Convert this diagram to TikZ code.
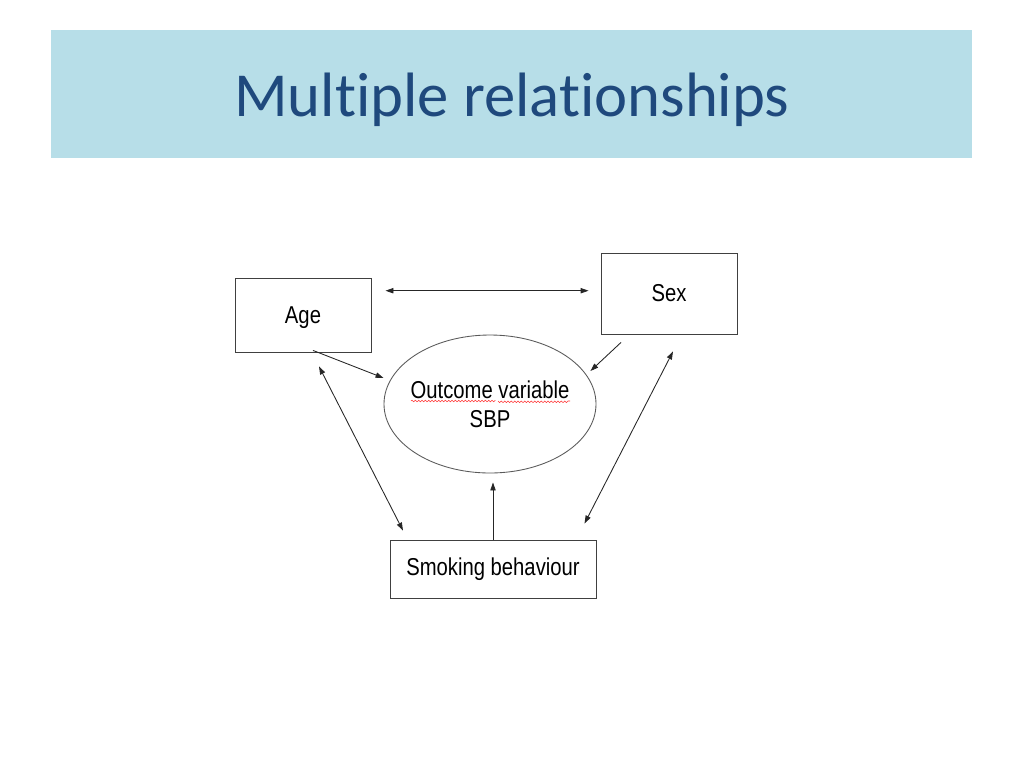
\documentclass[tikz,border=0pt]{standalone}
\usepackage{fontspec}
\setmainfont{Liberation Sans}[FakeStretch=0.83]
\newfontfamily\titlefont{Carlito}[Ligatures=NoCommon]
\usetikzlibrary{arrows.meta,shapes.geometric,decorations.pathmorphing}
\definecolor{bandblue}{RGB}{183,222,232}
\definecolor{titleblue}{RGB}{31,73,125}
\begin{document}
\begin{tikzpicture}[x=0.75pt, y=-0.75pt, line width=0.65pt]
      \tikzstyle{every node} = [inner sep = 2pt, font=\fontsize{18.3}{21.75}\selectfont];
      \tikzstyle{varbox} = [draw=black!75, rectangle];
      \tikzstyle{link} = [black!85, -{Triangle[length=6pt,width=4pt]}];
      \tikzstyle{twoway} = [black!85, {Triangle[length=6pt,width=4pt]}-{Triangle[length=6pt,width=4pt]}];
      \useasboundingbox (0,0) rectangle (1024,768);
      % title band
      \fill[bandblue] (51,30) rectangle (972,158);
      \node (title) at (512,100) {\titlefont\fontsize{47}{50}\selectfont\color{titleblue}Multiple relationships};
      % variables
      \node (age) [varbox, minimum width=102pt, minimum height=55.5pt, text depth=0pt] at (303,315) {Age};
      \node (sex) [varbox, minimum width=102pt, minimum height=60.75pt] at (669,293.5) {Sex};
      \node (sbp) [draw=black!65, ellipse, inner sep=0pt, minimum width=159pt, minimum height=103.5pt] at (490,404) {};
      \node (sbptext) [align=center] at (sbp.center) {Outcome variable\\SBP};
      \node (smk) [varbox, minimum width=154.5pt, minimum height=43.5pt] at (493,569) {Smoking behaviour};
      % spell-check marks
      \draw[red!80, line width=0.4pt, decorate, decoration={snake, amplitude=0.6pt, segment length=2.5pt}]
        (sbp.center) ++(-79,-3) -- ++(84,0) ++(3,0) -- ++(72,0);
      % arrow ends
      \path (age.east) ++(14,-24.3) coordinate (a1);
      \path (sex.west) ++(-12,-2.8) coordinate (s1);
      \path (age.south) ++(10,-2) coordinate (a2);
      \path (sbp.west) ++(0,-26) coordinate (o1);
      \path (sex.south) ++(-48,8) coordinate (s2);
      \path (sbp.east) ++(-6,-33) coordinate (o2);
      \path (age.south) ++(16,14) coordinate (a3);
      \path (smk.north) ++(-90,-9) coordinate (m1);
      \path (sex.south) ++(4,17) coordinate (s3);
      \path (smk.north) ++(91.5,-16) coordinate (m2);
      \path (sbp.south) ++(3,9) coordinate (o3);
      % relationships
      \path (a1) edge[twoway] (s1);
      \path (a2) edge[link] (o1);
      \path (s2) edge[link] (o2);
      \path (a3) edge[twoway] (m1);
      \path (s3) edge[twoway] (m2);
      \path (smk.north) edge[link] (o3);
    \end{tikzpicture}
\end{document}
